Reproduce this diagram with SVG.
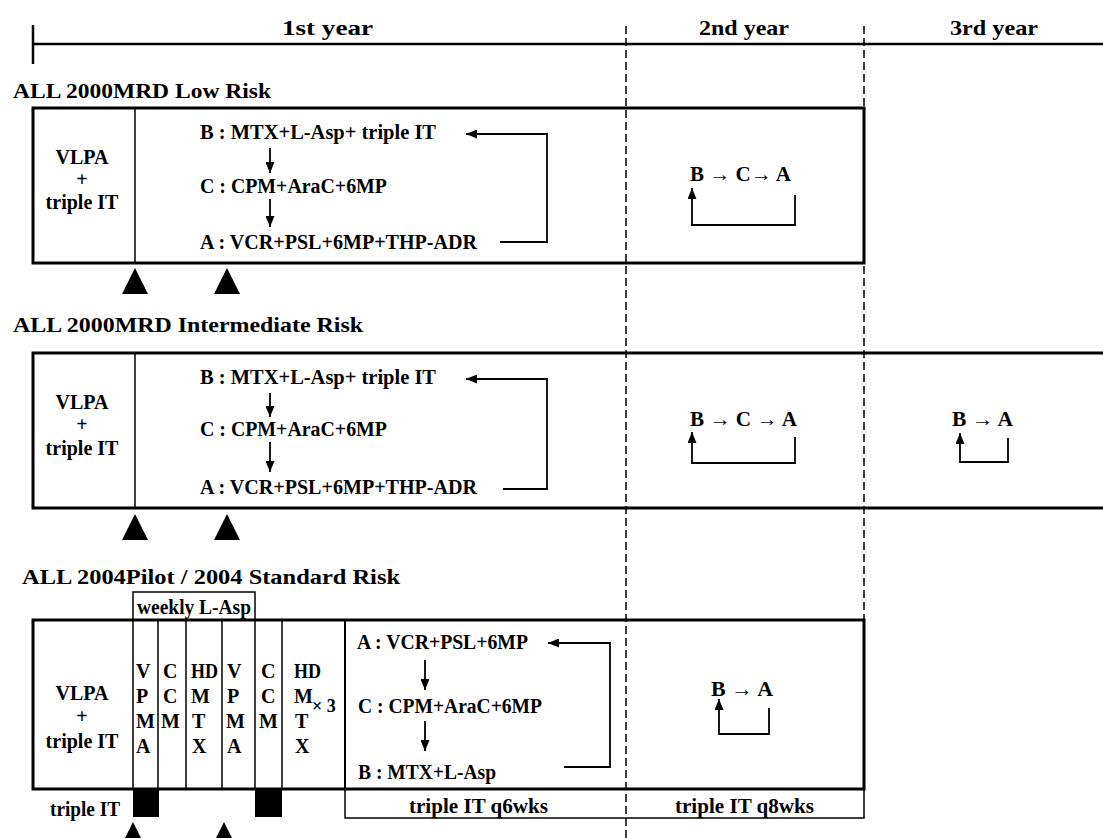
<svg xmlns="http://www.w3.org/2000/svg" width="1103" height="838" viewBox="0 0 1103 838">
<defs>
<style>
.t{font-family:"Liberation Serif","Times New Roman",serif;font-weight:bold;font-size:20px;fill:#000}
.h{font-size:21px}
.m{text-anchor:middle}
.s{font-size:18px}
.bx{fill:none;stroke:#000;stroke-width:3}
.ln{fill:none;stroke:#000;stroke-width:1.5}
.dash{fill:none;stroke:#000;stroke-width:1.5;stroke-dasharray:8 4}
.arr{fill:none;stroke:#000;stroke-width:1.8;marker-end:url(#ah)}
.tri{fill:#000}
</style>
<marker id="ah" markerUnits="userSpaceOnUse" markerWidth="11" markerHeight="9" refX="11" refY="4.5" orient="auto">
<path d="M0,0 L11,4.5 L0,9 z" fill="#000"/>
</marker>
</defs>
<rect width="1103" height="838" fill="#fff"/>

<g id="timeline">
<line x1="33" y1="44" x2="1103" y2="44" stroke="#000" stroke-width="2.5"/>
<line x1="33" y1="25" x2="33" y2="64" stroke="#000" stroke-width="2.5"/>
<text class="t h" x="282" y="35" textLength="91" lengthAdjust="spacingAndGlyphs">1st  year</text>
<text class="t h" x="699" y="35" textLength="90" lengthAdjust="spacingAndGlyphs">2nd  year</text>
<text class="t h" x="950" y="35" textLength="88" lengthAdjust="spacingAndGlyphs">3rd  year</text>
<line class="dash" x1="626" y1="26" x2="626" y2="838"/>
<line class="dash" x1="864" y1="26" x2="864" y2="620"/>
</g>

<g id="low-risk">
<text class="t h" x="13" y="98" textLength="258" lengthAdjust="spacingAndGlyphs">ALL 2000MRD Low Risk</text>
<rect class="bx" x="33" y="108" width="831" height="155"/>
<line class="ln" x1="135" y1="108" x2="135" y2="263"/>
<text class="t m" x="82" y="164">VLPA</text>
<text class="t m" x="82" y="186">+</text>
<text class="t m" x="82" y="209">triple IT</text>
<text class="t" x="200" y="139" textLength="236" lengthAdjust="spacingAndGlyphs">B : MTX+L-Asp+ triple IT</text>
<text class="t" x="200" y="193" textLength="187" lengthAdjust="spacingAndGlyphs">C : CPM+AraC+6MP</text>
<text class="t" x="200" y="249" textLength="277" lengthAdjust="spacingAndGlyphs">A : VCR+PSL+6MP+THP-ADR</text>
<text class="t" x="690" y="181" textLength="101" lengthAdjust="spacingAndGlyphs">B → C→  A</text>
<polygon class="tri" points="122,294 135,268 148,294"/>
<polygon class="tri" points="214,294 227,268 240,294"/>
</g>

<g id="intermediate-risk">
<text class="t h" x="13" y="332" textLength="350" lengthAdjust="spacingAndGlyphs">ALL 2000MRD Intermediate  Risk</text>
<path class="bx" d="M1103,353 H33 V508 H1103"/>
<line class="ln" x1="135" y1="353" x2="135" y2="508"/>
<text class="t m" x="82" y="409">VLPA</text>
<text class="t m" x="82" y="431">+</text>
<text class="t m" x="82" y="455">triple IT</text>
<text class="t" x="200" y="384" textLength="236" lengthAdjust="spacingAndGlyphs">B : MTX+L-Asp+ triple IT</text>
<text class="t" x="200" y="436" textLength="187" lengthAdjust="spacingAndGlyphs">C : CPM+AraC+6MP</text>
<text class="t" x="200" y="494" textLength="277" lengthAdjust="spacingAndGlyphs">A : VCR+PSL+6MP+THP-ADR</text>
<text class="t" x="690" y="426" textLength="107" lengthAdjust="spacingAndGlyphs">B → C → A</text>
<text class="t" x="952" y="426" textLength="61" lengthAdjust="spacingAndGlyphs">B →  A</text>
<polygon class="tri" points="122,540 135,514 148,540"/>
<polygon class="tri" points="214,540 227,514 240,540"/>
</g>

<g id="standard-risk">
<text class="t h" x="22" y="584" textLength="378" lengthAdjust="spacingAndGlyphs">ALL 2004Pilot  / 2004  Standard  Risk</text>
<rect class="ln" x="133" y="592" width="122" height="28"/>
<text class="t" x="137" y="614" textLength="114" lengthAdjust="spacingAndGlyphs">weekly L-Asp</text>
<rect class="bx" x="33" y="620" width="831" height="169"/>
<line class="ln" x1="133" y1="620" x2="133" y2="789"/>
<line class="ln" x1="158" y1="620" x2="158" y2="789"/>
<line class="ln" x1="186" y1="620" x2="186" y2="789"/>
<line class="ln" x1="222" y1="620" x2="222" y2="789"/>
<line class="ln" x1="255" y1="620" x2="255" y2="789"/>
<line class="ln" x1="282" y1="620" x2="282" y2="789"/>
<line x1="345" y1="620" x2="345" y2="789" stroke="#000" stroke-width="2"/>
<text class="t m" x="82" y="700">VLPA</text>
<text class="t m" x="82" y="723">+</text>
<text class="t m" x="82" y="748">triple IT</text>
<text class="t" x="136" y="678">V</text><text class="t" x="136" y="703">P</text><text class="t" x="136" y="728">M</text><text class="t" x="136" y="753">A</text>
<text class="t" x="163" y="678">C</text><text class="t" x="163" y="703">C</text><text class="t" x="161" y="728">M</text>
<text class="t" x="191" y="678" textLength="27" lengthAdjust="spacingAndGlyphs">HD</text><text class="t" x="191" y="703">M</text><text class="t" x="192" y="728">T</text><text class="t" x="192" y="753">X</text>
<text class="t" x="227" y="678">V</text><text class="t" x="227" y="703">P</text><text class="t" x="226" y="728">M</text><text class="t" x="227" y="753">A</text>
<text class="t" x="261" y="678">C</text><text class="t" x="261" y="703">C</text><text class="t" x="259" y="728">M</text>
<text class="t" x="294" y="678" textLength="27" lengthAdjust="spacingAndGlyphs">HD</text><text class="t" x="294" y="703">M</text><text class="t" x="295" y="728">T</text><text class="t" x="295" y="753">X</text>
<text class="t s" x="312" y="712">× 3</text>
<text class="t" x="357" y="649" textLength="171" lengthAdjust="spacingAndGlyphs">A : VCR+PSL+6MP</text>
<text class="t" x="358" y="713" textLength="184" lengthAdjust="spacingAndGlyphs">C : CPM+AraC+6MP</text>
<text class="t" x="358" y="779" textLength="138" lengthAdjust="spacingAndGlyphs">B : MTX+L-Asp</text>
<text class="t" x="711" y="696" textLength="62" lengthAdjust="spacingAndGlyphs">B →  A</text>
<rect x="133" y="789" width="26" height="28" fill="#000"/>
<rect x="255" y="789" width="27" height="28" fill="#000"/>
<text class="t" x="50" y="816" textLength="70" lengthAdjust="spacingAndGlyphs">triple IT</text>
<path class="ln" d="M345,789 V818 H864 V789"/>
<text class="t" x="409" y="813" textLength="139" lengthAdjust="spacingAndGlyphs">triple IT q6wks</text>
<text class="t" x="675" y="813" textLength="139" lengthAdjust="spacingAndGlyphs">triple IT q8wks</text>
<polygon class="tri" points="119,850 133,822 147,850"/>
<polygon class="tri" points="210,850 224,822 238,850"/>
</g>

<g id="connectors">
<line class="arr" x1="270" y1="148" x2="270" y2="173"/>
<line class="arr" x1="270" y1="199" x2="270" y2="227"/>
<polyline class="arr" points="500,242 547,242 547,134 466,134"/>
<polyline class="arr" points="795,195 795,225 692,225 692,188"/>
<line class="arr" x1="270" y1="393" x2="270" y2="417"/>
<line class="arr" x1="270" y1="442" x2="270" y2="472"/>
<polyline class="arr" points="503,489 547,489 547,379 466,379"/>
<polyline class="arr" points="795,437 795,463 692,463 692,432"/>
<polyline class="arr" points="1008,438 1008,462 960,462 960,433"/>
<line class="arr" x1="425" y1="660" x2="425" y2="690"/>
<line class="arr" x1="425" y1="721" x2="425" y2="751"/>
<polyline class="arr" points="564,767 610,767 610,643 548,643"/>
<polyline class="arr" points="769,708 769,734 719,734 719,699"/>
</g>
</svg>
